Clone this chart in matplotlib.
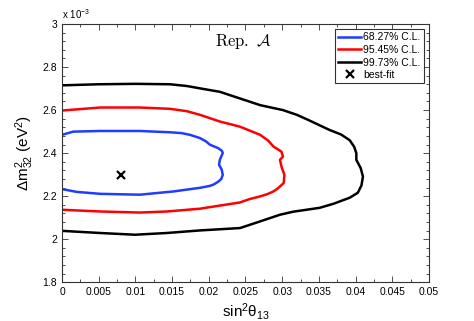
import numpy as np
import matplotlib
matplotlib.use("Agg")
import matplotlib.pyplot as plt
from matplotlib.ticker import MultipleLocator, FuncFormatter

plt.rcParams['font.family'] = ['Liberation Sans', 'DejaVu Sans']
plt.rcParams['mathtext.fontset'] = 'custom'
plt.rcParams['mathtext.rm'] = 'Liberation Sans'
plt.rcParams['mathtext.it'] = 'Liberation Sans:italic'
plt.rcParams['mathtext.default'] = 'regular'

# contours, x = sin^2(theta13), y = dm^2_32 in units of 1e-3 eV^2
x_68 = [0, 0.00154, 0.0052, 0.0106, 0.0147, 0.0163, 0.01744, 0.0188, 0.0196, 0.02016, 0.0208,
        0.0213, 0.0218, 0.0219, 0.0215, 0.0214, 0.02176, 0.0219, 0.0217, 0.0213, 0.0207,
        0.02016, 0.0188, 0.01516, 0.0106, 0.0052, 0.002, 0]
y_68 = [2.485, 2.500, 2.503, 2.503, 2.497, 2.493, 2.485, 2.470, 2.455, 2.439, 2.430,
        2.423, 2.41, 2.400, 2.369, 2.346, 2.323, 2.299, 2.28, 2.268, 2.255,
        2.248, 2.239, 2.222, 2.207, 2.211, 2.22, 2.233]

x_95 = [0, 0.0052, 0.0106, 0.0147, 0.0170, 0.0188, 0.0215, 0.02425, 0.0270, 0.0281, 0.0288,
        0.0299, 0.0301, 0.0297, 0.0299, 0.0303, 0.0302, 0.02947, 0.0288, 0.0280, 0.02698,
        0.0255, 0.02425, 0.0188, 0.0143, 0.0106, 0.0052, 0]
y_95 = [2.598, 2.612, 2.612, 2.606, 2.595, 2.578, 2.547, 2.523, 2.485, 2.458, 2.431,
        2.407, 2.384, 2.369, 2.338, 2.299, 2.261, 2.238, 2.222, 2.21, 2.199,
        2.186, 2.171, 2.142, 2.129, 2.124, 2.129, 2.137]

x_99 = [0, 0.005, 0.010, 0.0147, 0.0170, 0.0188, 0.0215, 0.02425, 0.0270, 0.0301, 0.0320,
        0.0335, 0.0365, 0.0380, 0.0392, 0.0398, 0.0401, 0.0401, 0.0407, 0.0410, 0.0408,
        0.0403, 0.0392, 0.0370, 0.0351, 0.0315, 0.0297, 0.0270, 0.02425, 0.0188, 0.01426,
        0.00995, 0.0052, 0]
y_99 = [2.715, 2.720, 2.722, 2.720, 2.712, 2.701, 2.685, 2.654, 2.623, 2.600, 2.578,
        2.555, 2.507, 2.487, 2.460, 2.43, 2.400, 2.369, 2.33, 2.291, 2.25,
        2.216, 2.193, 2.165, 2.146, 2.128, 2.114, 2.083, 2.052, 2.041, 2.029,
        2.021, 2.029, 2.039]

best_x = 0.008
best_y = 2.30

fig = plt.figure(figsize=(4.74, 3.21), dpi=100)
ax = fig.add_axes([62 / 474, 1 - 282.3 / 321, 367 / 474, 258.3 / 321])

ax.plot(x_68, y_68, color='#1f3cff', lw=1.8, label='68.27% C.L.')
ax.plot(x_95, y_95, color='#ff0000', lw=1.8, label='95.45% C.L.')
ax.plot(x_99, y_99, color='black', lw=1.8, label='99.73% C.L.')
ax.plot(best_x, best_y, 'x', color='black', ms=6, mew=1.6, label='best-fit')

ax.set_xlim(0, 0.05)
ax.set_ylim(1.8, 3.0)
ax.xaxis.set_major_locator(MultipleLocator(0.005))
ax.xaxis.set_minor_locator(MultipleLocator(0.0025))
ax.yaxis.set_major_locator(MultipleLocator(0.2))
ax.yaxis.set_minor_locator(MultipleLocator(0.04))
fmt = FuncFormatter(lambda v, p: '%g' % round(v, 4))
ax.xaxis.set_major_formatter(fmt)
ax.yaxis.set_major_formatter(fmt)
ax.tick_params(which='both', direction='in', top=True, right=True, labelsize=7.5,
               width=0.6, color='#333333')
ax.tick_params(which='major', length=4)
ax.tick_params(which='minor', length=2)
for s in ax.spines.values():
    s.set_linewidth(0.8)
    s.set_color('#333333')

ax.text(0.0, 1.01, 'x 10$^{-3}$', transform=ax.transAxes, fontsize=7, va='bottom', ha='left')
ax.text(0.0209, 2.92, r'$\mathrm{Rep.}\ \mathcal{A}$', fontsize=12, math_fontfamily='cm',
        ha='left', va='center')

ax.set_xlabel('sin$^2$θ$_{13}$', fontsize=11, labelpad=3)
ax.set_ylabel('Δm$^2_{32}$ (eV$^2$)', fontsize=11, labelpad=5)

leg = ax.legend(loc='upper right', fontsize=7.5, handlelength=2.2, handletextpad=0.2,
                borderpad=0.3, labelspacing=0.25, fancybox=False, framealpha=1,
                borderaxespad=0.5)
leg.get_frame().set_edgecolor('#333333')
leg.get_frame().set_linewidth(0.8)

fig.savefig('out.png', dpi=100)
